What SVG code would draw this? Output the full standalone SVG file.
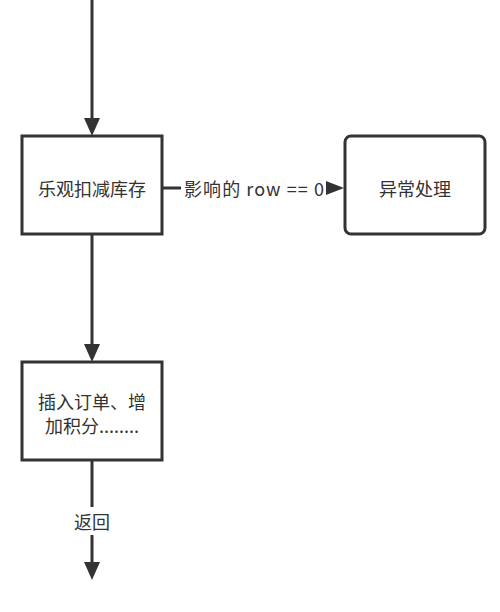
<svg xmlns="http://www.w3.org/2000/svg" width="500" height="612" viewBox="0 0 500 612">
<style>
.box{fill:#fff;stroke:#333;stroke-width:3}
.edge{fill:none;stroke:#333;stroke-width:3}
.t{font-family:"Noto Sans CJK SC","Open Sans",sans-serif;font-size:18px;fill:#333;text-anchor:middle;dominant-baseline:central}
.lbl{fill:#fff}
</style>
<rect width="500" height="612" fill="#fff"/>
<g id="edges">
<line class="edge" x1="92" y1="0" x2="92" y2="120"/>
<polygon points="84,118 100,118 92,136" fill="#333"/>
<line class="edge" x1="92" y1="234" x2="92" y2="346"/>
<polygon points="84,344 100,344 92,362" fill="#333"/>
<line class="edge" x1="162" y1="188" x2="330" y2="188"/>
<polygon points="326,181 326,195 344,188" fill="#333"/>
<rect class="lbl" x="181" y="175" width="145" height="26"/>
<text class="t" x="254" y="188" textLength="140">影响的 row == 0</text>
<line class="edge" x1="92" y1="460" x2="92" y2="565"/>
<polygon points="84,562 100,562 92,580" fill="#333"/>
<rect class="lbl" x="72" y="507" width="40" height="28"/>
<text class="t" x="92" y="521">返回</text>
</g>
<g id="n1">
<rect class="box" x="22" y="136" width="140" height="98"/>
<text class="t" x="92" y="188">乐观扣减库存</text>
</g>
<g id="n2">
<rect class="box" x="345" y="136" width="140" height="98" rx="6"/>
<text class="t" x="415" y="188">异常处理</text>
</g>
<g id="n3">
<rect class="box" x="22" y="362" width="140" height="98"/>
<text class="t" x="92" y="401">插入订单、增</text>
<text class="t" x="92" y="425">加积分........</text>
</g>
</svg>
